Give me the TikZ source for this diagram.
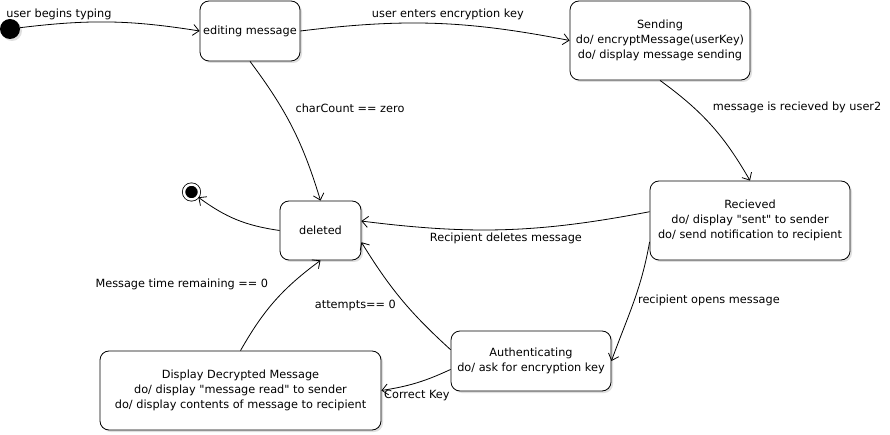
\documentclass[tikz,border=0pt]{standalone}
\usepackage{fontspec}
\setmainfont{DejaVu Sans}
\usetikzlibrary{arrows.meta,shadows}
\tikzset{
	state/.style={draw, line width=.8pt, rounded corners=9pt, fill=white, align=center, inner sep=2pt,
		drop shadow={shadow xshift=2pt, shadow yshift=-2pt, opacity=.25}},
	start/.style={circle, fill=black, minimum size=20pt, inner sep=0pt,
		drop shadow={shadow xshift=2pt, shadow yshift=-2pt, opacity=.25}},
	stop/.style={circle, fill=black, draw=white, line width=2.4pt, minimum size=15pt, inner sep=0pt,
		preaction={draw=black, line width=4pt}},
	trans/.style={-{Straight Barb[length=6pt,width=11pt]}, line width=.8pt}
}
\begin{document}
\begin{tikzpicture}[x=1pt, y=1pt, font=\fontsize{11.3}{15}\selectfont]
	\useasboundingbox (0,0) rectangle (890,-435);
	\node[start] (init) at (10,-29) {};
	\node[stop] (final) at (191.5,-192) {};
	\node[state, minimum width=100pt, minimum height=60pt] (edit) at (250,-31) {editing message};
	\node[state, minimum width=180pt, minimum height=79pt] (send) at (660,-40.5) {Sending\\do/ encryptMessage(userKey)\\do/ display message sending};
	\node[state, minimum width=200pt, minimum height=79pt] (recv) at (750,-220.5) {Recieved\\do/ display \textquotedbl sent\textquotedbl{} to sender\\do/ send notification to recipient};
	\node[state, minimum width=81pt, minimum height=59pt] (del) at (320.5,-230.5) {deleted};
	\node[state, minimum width=160pt, minimum height=60pt] (auth) at (531,-361) {Authenticating\\do/ ask for encryption key};
	\node[state, minimum width=281pt, minimum height=79pt] (disp) at (240.5,-390.5) {Display Decrypted Message\\do/ display \textquotedbl message read\textquotedbl{} to sender\\do/ display contents of message to recipient};
	\path[trans]
	(init) edge[bend left=8] node[pos=.2, above]{user begins typing} (edit.west)
	(edit.east) edge[bend left=9] node[pos=.55, above]{user enters encryption key} (send.west)
	(send.south) edge[bend left=12] node[pos=.3, right=16pt]{message is recieved by user2} (recv.north)
	(edit.south) edge[bend left=10] node[pos=.35, right=10pt]{charCount == zero} (del.north)
	(del.west) edge[bend left=14] (final)
	(recv.175) edge[bend left=9] node[pos=.5, below]{Recipient deletes message} (del.13)
	(recv.192) edge[out=-100, in=70] node[pos=.48, right]{recipient opens message} (auth.east)
	(auth.172) edge[bend left=8] node[pos=.44, left=7pt]{attempts== 0} (del.344)
	(auth.186) edge[bend left=8] node[pos=.5, below=4pt]{Correct Key} (disp.east)
	(disp.north) edge[bend left=12] node[pos=.7, left=19pt]{Message time remaining == 0} (del.south);
\end{tikzpicture}
\end{document}
